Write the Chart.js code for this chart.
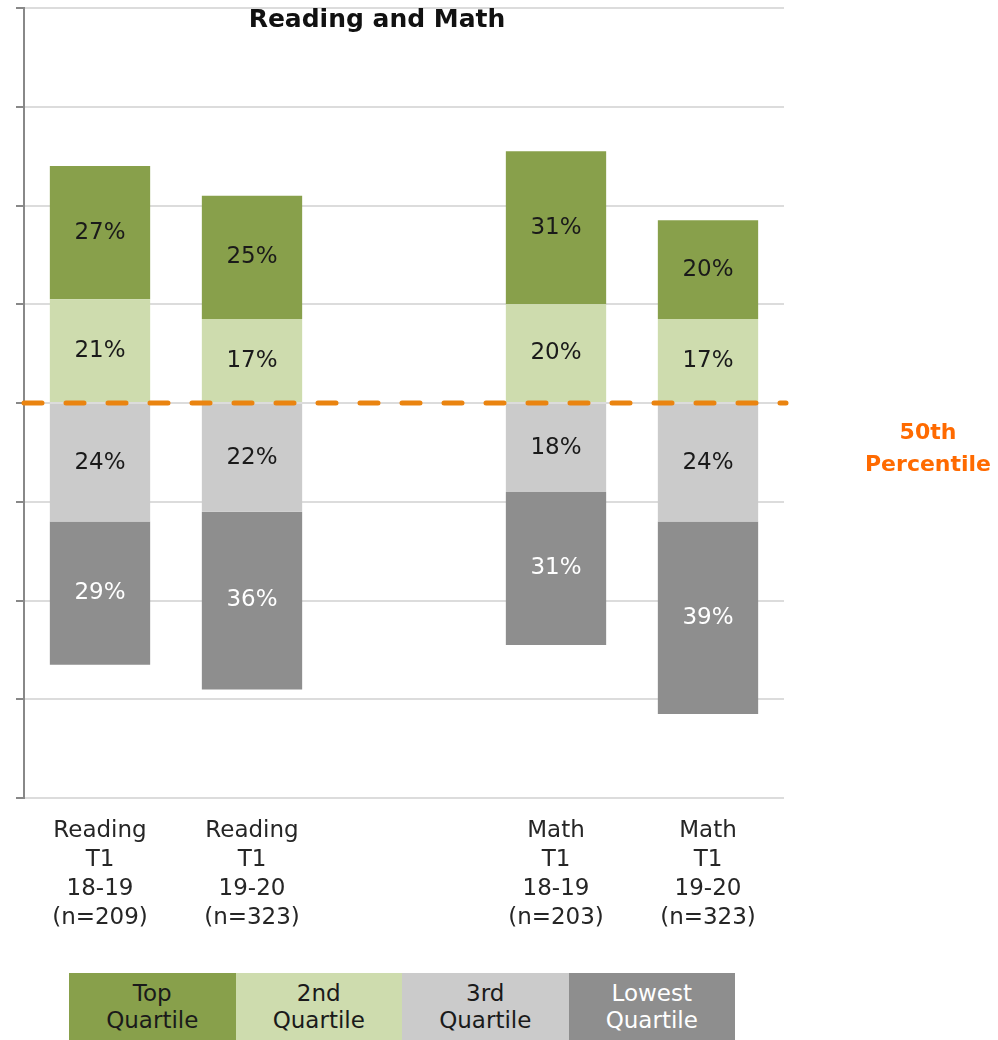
<!DOCTYPE html>
<html lang="en">
<head>
    <meta charset="UTF-8">
    <title>Reading and Math</title>
    <script src="https://cdn.jsdelivr.net/npm/chart.js"></script>
    <style>
        body {
            margin: 0;
            background-color: #ffffff;
            font-family: "DejaVu Sans", sans-serif;
        }
        .wrap {
            position: relative;
            width: 998px;
            height: 1040px;
        }
        .chart-box {
            position: absolute;
            left: 0;
            top: 0;
            width: 998px;
            height: 951px;
        }
        .legend {
            position: absolute;
            left: 69px;
            top: 973px;
            width: 666px;
            height: 67px;
            display: flex;
        }
        .legend div {
            flex: 1;
            display: flex;
            align-items: center;
            justify-content: center;
            text-align: center;
            font-size: 23px;
            line-height: 27px;
            color: #1a1a1a;
        }
    </style>
</head>
<body>
    <div class="wrap">
        <div class="chart-box">
            <canvas id="quartileChart"></canvas>
        </div>
        <div class="legend" id="legend"></div>
    </div>

    <script>
        // categories (middle slot is an empty spacer between Reading and Math)
        const categories = [
            ['Reading', 'T1', '18-19', '(n=209)'],
            ['Reading', 'T1', '19-20', '(n=323)'],
            '',
            ['Math', 'T1', '18-19', '(n=203)'],
            ['Math', 'T1', '19-20', '(n=323)']
        ];
        const topQuartile = [27, 25, null, 31, 20];
        const secondQuartile = [21, 17, null, 20, 17];
        const thirdQuartile = [24, 22, null, 18, 24];
        const lowestQuartile = [29, 36, null, 31, 39];
        const yTicks = [-80, -60, -40, -20, 0, 20, 40, 60, 80];

        const colors = {
            top: '#88a04b',
            second: '#cedcae',
            third: '#cbcbcb',
            lowest: '#8e8e8e'
        };

        const neg = arr => arr.map(v => v === null ? null : -v);

        // legend boxes under the chart
        const legendItems = [
            ['Top<br>Quartile', colors.top, '#1a1a1a'],
            ['2nd<br>Quartile', colors.second, '#1a1a1a'],
            ['3rd<br>Quartile', colors.third, '#1a1a1a'],
            ['Lowest<br>Quartile', colors.lowest, '#ffffff']
        ];
        document.getElementById('legend').innerHTML = legendItems
            .map(([t, bg, fg]) => `<div style="background:${bg};color:${fg}">${t}</div>`)
            .join('');

        const barLabels = {
            id: 'barLabels',
            afterDatasetsDraw(chart) {
                const ctx = chart.ctx;
                ctx.save();
                ctx.font = '23px "DejaVu Sans"';
                ctx.textAlign = 'center';
                ctx.textBaseline = 'middle';
                chart.data.datasets.forEach((ds, i) => {
                    const meta = chart.getDatasetMeta(i);
                    meta.data.forEach((bar, j) => {
                        const v = ds.data[j];
                        if (v === null) return;
                        const mid = (bar.y + bar.base) / 2;
                        ctx.fillStyle = ds.labelColor;
                        ctx.fillText(Math.abs(v) + '%', bar.x, mid);
                    });
                });
                ctx.restore();
            }
        };

        const medianLine = {
            id: 'medianLine',
            afterDatasetsDraw(chart) {
                const ctx = chart.ctx;
                const area = chart.chartArea;
                const y0 = chart.scales.y.getPixelForValue(0);
                ctx.save();
                ctx.strokeStyle = '#ea8410';
                ctx.lineWidth = 5;
                ctx.lineCap = 'round';
                ctx.setLineDash([18, 24]);
                ctx.beginPath();
                ctx.moveTo(area.left, y0);
                ctx.lineTo(area.right + 2, y0);
                ctx.stroke();
                ctx.setLineDash([]);

                ctx.fillStyle = '#ff6a00';
                ctx.font = 'bold 22px "DejaVu Sans"';
                ctx.textAlign = 'center';
                ctx.textBaseline = 'middle';
                ctx.fillText('50th', 928, y0 + 30);
                ctx.fillText('Percentile', 928, y0 + 62);

                ctx.fillStyle = '#111111';
                ctx.font = 'bold 25px "DejaVu Sans"';
                ctx.fillText('Reading and Math', 377, 20);
                ctx.restore();
            }
        };

        const ctx = document.getElementById('quartileChart').getContext('2d');
        const chart = new Chart(ctx, {
            type: 'bar',
            data: {
                labels: categories,
                datasets: [
                    { label: '2nd Quartile', data: secondQuartile, backgroundColor: colors.second, labelColor: '#1a1a1a' },
                    { label: 'Top Quartile', data: topQuartile, backgroundColor: colors.top, labelColor: '#1a1a1a' },
                    { label: '3rd Quartile', data: neg(thirdQuartile), backgroundColor: colors.third, labelColor: '#1a1a1a' },
                    { label: 'Lowest Quartile', data: neg(lowestQuartile), backgroundColor: colors.lowest, labelColor: '#ffffff' }
                ]
            },
            options: {
                animation: false,
                responsive: true,
                maintainAspectRatio: false,
                datasets: {
                    bar: { categoryPercentage: 1, barPercentage: 0.66 }
                },
                layout: {
                    padding: { left: 16, right: 214, top: 8, bottom: 8 }
                },
                plugins: {
                    legend: { display: false },
                    tooltip: { enabled: false }
                },
                scales: {
                    x: {
                        stacked: true,
                        grid: { display: false },
                        border: { display: false },
                        ticks: {
                            color: '#262626',
                            padding: 11,
                            maxRotation: 0,
                            autoSkip: false,
                            font: { family: 'DejaVu Sans', size: 23, lineHeight: 1.25 }
                        }
                    },
                    y: {
                        stacked: true,
                        min: -80,
                        max: 80,
                        afterBuildTicks: scale => {
                            scale.ticks = yTicks.map(v => ({ value: v }));
                        },
                        grid: {
                            color: '#dcdcdc',
                            lineWidth: 2,
                            tickColor: '#888888',
                            tickLength: 8
                        },
                        border: { color: '#888888', width: 2 },
                        ticks: { display: false }
                    }
                }
            },
            plugins: [barLabels, medianLine]
        });
    </script>
</body>
</html>
